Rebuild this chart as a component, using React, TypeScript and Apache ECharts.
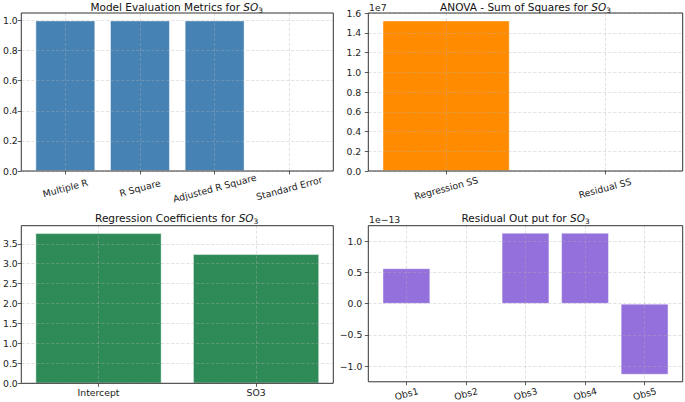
import React, { useEffect, useRef } from "react";
import * as echarts from "echarts";

const metricCats = ["Multiple R", "R Square", "Adjusted R Square", "Standard Error"];
const metricVals = [1.0, 1.0, 1.0, 0];
const metricTicks = [0, 0.2, 0.4, 0.6, 0.8, 1.0];

const anovaCats = ["Regression SS", "Residual SS"];
const anovaVals = [15250000, 0];
const anovaTicks = [0, 2e6, 4e6, 6e6, 8e6, 1e7, 1.2e7, 1.4e7, 1.6e7];

const coefCats = ["Intercept", "SO3"];
const coefVals = [3.765, 3.24];
const coefTicks = [0, 0.5, 1.0, 1.5, 2.0, 2.5, 3.0, 3.5];

const residCats = ["Obs1", "Obs2", "Obs3", "Obs4", "Obs5"];
const residVals = [5.684e-14, 0, 1.137e-13, 1.137e-13, -1.137e-13];
const residTicks = [-1e-13, -0.5e-13, 0, 0.5e-13, 1e-13];

const FONT = "DejaVu Sans";
const TICK_FS = 9.3;
const TITLE_FS = 10.5;

type PanelSpec = {
  cats: string[];
  vals: number[];
  ticks: number[];
  color: string;
  yFmt: (v: number) => string;
  grid: { left: number; top: number; width: number; height: number };
  rotate: number;
  xMargin: number;
  yMargin: number;
};

const panels: PanelSpec[] = [
  {
    cats: metricCats, vals: metricVals, ticks: metricTicks, color: "#4682B4",
    yFmt: (v) => v.toFixed(1),
    grid: { left: 20, top: 13, width: 313.3, height: 158 },
    rotate: 15, xMargin: 17, yMargin: 3.5,
  },
  {
    cats: anovaCats, vals: anovaVals, ticks: anovaTicks, color: "#FF8C00",
    yFmt: (v) => (v / 1e7).toFixed(1),
    grid: { left: 368.3, top: 13, width: 314.4, height: 158 },
    rotate: 15, xMargin: 17, yMargin: 7,
  },
  {
    cats: coefCats, vals: coefVals, ticks: coefTicks, color: "#2E8B57",
    yFmt: (v) => v.toFixed(1),
    grid: { left: 20, top: 225.7, width: 313.3, height: 157.6 },
    rotate: 0, xMargin: 5, yMargin: 3.5,
  },
  {
    cats: residCats, vals: residVals, ticks: residTicks, color: "#9370DB",
    yFmt: (v) => (v / 1e-13).toFixed(1).replace("-", "\u2212"),
    grid: { left: 368.3, top: 225.7, width: 314.4, height: 157.6 },
    rotate: 15, xMargin: 12, yMargin: 6,
  },
];

function titleRich(prefix: string) {
  return {
    text: prefix + "{it|SO}{sub|3}",
    fontSize: TITLE_FS,
    fontFamily: FONT,
    fill: "#111",
    lineHeight: 14,
    align: "center",
    verticalAlign: "middle",
    rich: {
      it: { fontSize: TITLE_FS, fontFamily: FONT, fontStyle: "italic", lineHeight: 14, fill: "#111" },
      sub: { fontSize: 7.4, fontFamily: FONT, lineHeight: 8, verticalAlign: "bottom", fill: "#111" },
    },
  };
}

export default function App() {
  const ref = useRef<HTMLDivElement>(null);
  useEffect(() => {
    if (!ref.current) return;
    const chart = echarts.init(ref.current, undefined, { renderer: "svg" });
    const grids: any[] = [];
    const xAxes: any[] = [];
    const yAxes: any[] = [];
    const series: any[] = [];
    const gridLine = { show: true, lineStyle: { color: "rgba(176,176,176,0.55)", type: [3, 2], width: 0.7 } };
    panels.forEach((p, i) => {
      const n = p.cats.length;
      const xpad = 0.05 * (n - 0.2);
      const lo = Math.min(0, ...p.vals);
      const hi = Math.max(0, ...p.vals);
      const ypad = (hi - lo) * 0.05;
      const yMin = lo < 0 ? lo - ypad : 0;
      const yMax = hi + ypad;
      grids.push({
        ...p.grid,
        show: true,
        borderColor: "#333",
        borderWidth: 1,
        backgroundColor: "transparent",
        z: 5,
      });
      const catIdx = p.cats.map((_, k) => k);
      xAxes.push({
        type: "value",
        gridIndex: i,
        position: "bottom",
        min: -0.4 - xpad,
        max: n - 0.6 + xpad,
        z: 3,
        axisLine: { show: false, onZero: false },
        axisTick: { show: true, length: 3.5, customValues: catIdx, lineStyle: { color: "#333", width: 0.8 } },
        splitLine: gridLine,
        axisLabel: {
          customValues: catIdx,
          formatter: (v: number) => p.cats[Math.round(v)] ?? "",
          rotate: p.rotate,
          align: "center",
          verticalAlign: p.rotate ? "middle" : "top",
          margin: p.xMargin,
          fontSize: TICK_FS,
          fontFamily: FONT,
          color: "#222",
        },
      });
      yAxes.push({
        type: "value",
        gridIndex: i,
        position: "left",
        min: yMin,
        max: yMax,
        z: 3,
        axisLine: { show: false, onZero: false },
        axisTick: { show: true, length: 3.5, customValues: p.ticks, lineStyle: { color: "#333", width: 0.8 } },
        splitLine: gridLine,
        axisLabel: {
          customValues: p.ticks,
          formatter: (v: number) => p.yFmt(v),
          margin: p.yMargin,
          fontSize: TICK_FS,
          fontFamily: FONT,
          color: "#222",
        },
      });
      series.push({
        type: "bar",
        xAxisIndex: i,
        yAxisIndex: i,
        barWidth: "80%",
        data: p.vals.map((v, k) => [k, v]),
        itemStyle: { color: p.color, borderColor: "rgba(255,255,255,0.55)", borderWidth: 0.8 },
        z: 2,
      });
    });

    chart.setOption({
      animation: false,
      backgroundColor: "#fff",
      textStyle: { fontFamily: FONT },
      grid: grids,
      xAxis: xAxes,
      yAxis: yAxes,
      series,
      graphic: [
        { type: "text", x: 176.7, y: 6.5, style: titleRich("Model Evaluation Metrics for ") },
        { type: "text", x: 525.5, y: 6.5, style: titleRich("ANOVA - Sum of Squares for ") },
        { type: "text", x: 176.7, y: 217.5, style: titleRich("Regression Coefficients for ") },
        { type: "text", x: 525.5, y: 217.5, style: titleRich("Residual Out put for ") },
        {
          type: "text", x: 369, y: 7,
          style: { text: "1e7", fontSize: TICK_FS, fontFamily: FONT, fill: "#222", align: "left", verticalAlign: "middle" },
        },
        {
          type: "text", x: 369, y: 219.7,
          style: { text: "1e\u221213", fontSize: TICK_FS, fontFamily: FONT, fill: "#222", align: "left", verticalAlign: "middle" },
        },
      ],
    });
    return () => chart.dispose();
  }, []);
  return (
    <div
      ref={ref}
      style={{ position: "fixed", left: 0, top: 0, width: 685, height: 402, background: "#fff" }}
    />
  );
}
